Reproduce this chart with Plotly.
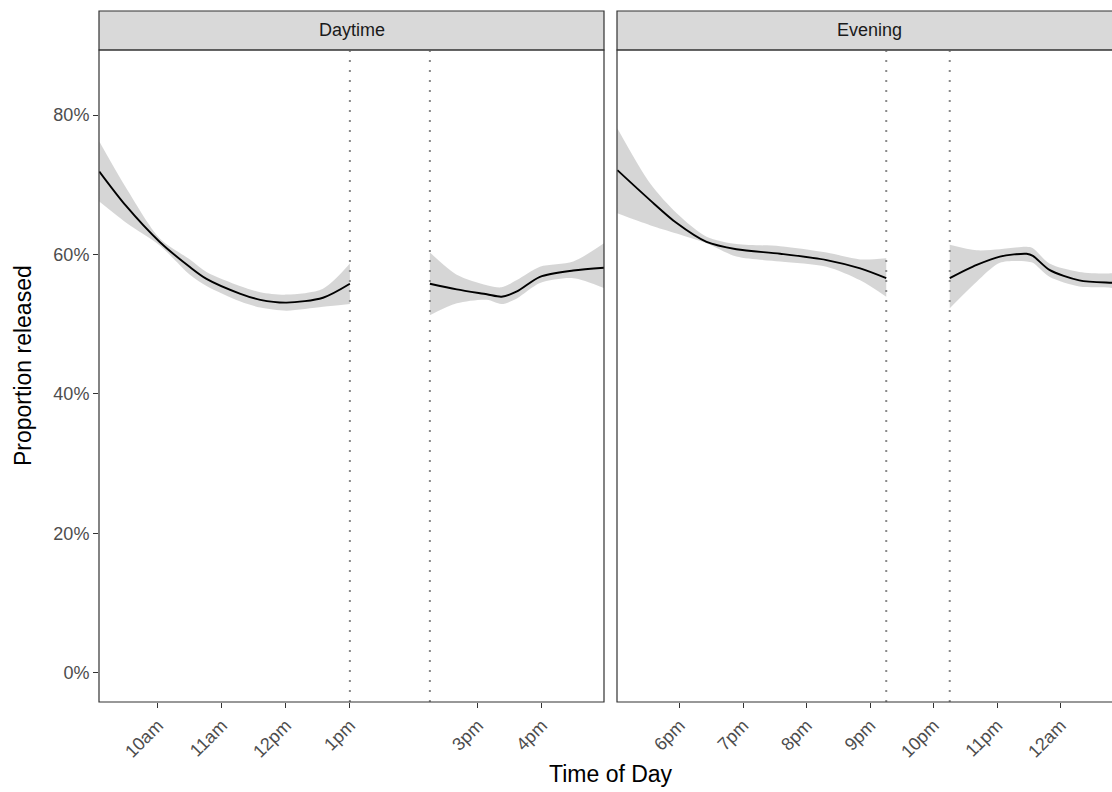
import plotly.graph_objects as go

# ---------------- data (hours of day; proportion released) ----------------
day_am_hours = [9.085, 9.5, 10.03, 10.5, 10.76, 11.28, 11.6, 12.01, 12.58, 13.0]
day_am_fit   = [0.719, 0.670, 0.618, 0.582, 0.565, 0.544, 0.535, 0.531, 0.538, 0.558]
day_am_upper = [0.762, 0.696, 0.623, 0.593, 0.575, 0.555, 0.546, 0.5425, 0.551, 0.587]
day_am_lower = [0.676, 0.646, 0.613, 0.571, 0.555, 0.533, 0.524, 0.5195, 0.525, 0.529]

day_pm_hours = [14.25, 14.67, 15.14, 15.37, 15.61, 15.97, 16.49, 16.97]
day_pm_fit   = [0.558, 0.550, 0.543, 0.5395, 0.547, 0.568, 0.577, 0.581]
day_pm_upper = [0.603, 0.571, 0.556, 0.553, 0.5635, 0.5825, 0.590, 0.616]
day_pm_lower = [0.513, 0.530, 0.535, 0.529, 0.537, 0.559, 0.566, 0.552]

eve_a_hours = [17.015, 17.53, 17.95, 18.42, 18.89, 19.58, 20.31, 20.84, 21.25]
eve_a_fit   = [0.721, 0.678, 0.645, 0.618, 0.6075, 0.601, 0.592, 0.580, 0.566]
eve_a_upper = [0.781, 0.702, 0.659, 0.6255, 0.615, 0.612, 0.603, 0.593, 0.5945]
eve_a_lower = [0.659, 0.642, 0.630, 0.616, 0.597, 0.590, 0.5825, 0.563, 0.5395]

eve_b_hours = [22.25, 22.675, 23.04, 23.46, 23.56, 23.82, 24.29, 24.8, 24.96]
eve_b_fit   = [0.566, 0.585, 0.597, 0.601, 0.598, 0.578, 0.563, 0.5596, 0.559]
eve_b_upper = [0.614, 0.606, 0.6075, 0.611, 0.609, 0.587, 0.575, 0.573, 0.576]
eve_b_lower = [0.523, 0.561, 0.588, 0.590, 0.588, 0.568, 0.554, 0.552, 0.548]

day_tick_vals = [10, 11, 12, 13, 15, 16]
day_tick_text = ["10am", "11am", "12pm", "1pm", "3pm", "4pm"]
eve_tick_vals = [18, 19, 20, 21, 22, 23, 24]
eve_tick_text = ["6pm", "7pm", "8pm", "9pm", "10pm", "11pm", "12am"]

day_breaks = [13.0, 14.25]
eve_breaks = [21.25, 22.25]

y_tick_vals = [0, 0.2, 0.4, 0.6, 0.8]
panel_labels = ["Daytime", "Evening"]

# ---------------- geometry ----------------
W, H = 1112, 792
ML, MR, MT, MB = 99, 0, 11, 90
PW = W - ML - MR
PH = H - MT - MB

def px_x(p):
    return (p - ML) / PW

def px_y(p):
    return 1 - (p - MT) / PH

left_dom = [0.0, px_x(604)]
right_dom = [px_x(617), 1.0]
right_end = px_x(1122)
y_top = px_y(50)

FONT = "Liberation Sans, Arial, Helvetica, sans-serif"
RIBBON = "rgba(153,153,153,0.4)"
BORDER = "#333333"

fig = go.Figure()

def add_smooth(hours, fit, lower, upper, xa, ya):
    fig.add_trace(go.Scatter(x=hours, y=lower, mode="lines", line=dict(width=0, shape="spline", smoothing=0.8),
                             xaxis=xa, yaxis=ya, showlegend=False, hoverinfo="skip"))
    fig.add_trace(go.Scatter(x=hours, y=upper, mode="lines", line=dict(width=0, shape="spline", smoothing=0.8),
                             fill="tonexty", fillcolor=RIBBON,
                             xaxis=xa, yaxis=ya, showlegend=False, hoverinfo="skip"))
    fig.add_trace(go.Scatter(x=hours, y=fit, mode="lines", line=dict(color="black", width=1.9, shape="spline", smoothing=0.8),
                             xaxis=xa, yaxis=ya, showlegend=False))

add_smooth(day_am_hours, day_am_fit, day_am_lower, day_am_upper, "x", "y")
add_smooth(day_pm_hours, day_pm_fit, day_pm_lower, day_pm_upper, "x", "y")
add_smooth(eve_a_hours, eve_a_fit, eve_a_lower, eve_a_upper, "x2", "y2")
add_smooth(eve_b_hours, eve_b_fit, eve_b_lower, eve_b_upper, "x2", "y2")

x_left_range = [9.08, 9.08 + (604 - 99) / 64.0]
x_right_range = [17.01, 17.01 + (1112 - 617) / 63.5]
y_range = [-0.0416, 0.8932]

tickfont = dict(family=FONT, size=18, color="#4d4d4d")
common_x = dict(showgrid=False, zeroline=False, showline=False, ticks="outside", ticklen=5,
                tickwidth=1.1, tickcolor=BORDER, tickangle=-45, tickfont=tickfont)

shapes = []
for xv in day_breaks:
    shapes.append(dict(type="line", xref="x", yref="y domain", x0=xv, x1=xv, y0=0, y1=1,
                       line=dict(color="#8a8a8a", width=2, dash="2px,8px"), layer="above"))
for xv in eve_breaks:
    shapes.append(dict(type="line", xref="x2", yref="y2 domain", x0=xv, x1=xv, y0=0, y1=1,
                       line=dict(color="#8a8a8a", width=2, dash="2px,8px"), layer="above"))

# panel borders and strips
for x0, x1 in [(left_dom[0], left_dom[1]), (right_dom[0], right_end)]:
    shapes.append(dict(type="rect", xref="paper", yref="paper", x0=x0, x1=x1, y0=0, y1=y_top,
                       line=dict(color=BORDER, width=1.2), fillcolor="rgba(0,0,0,0)", layer="above"))
    shapes.append(dict(type="rect", xref="paper", yref="paper", x0=x0, x1=x1, y0=y_top, y1=1.0,
                       line=dict(color=BORDER, width=1.2), fillcolor="#d9d9d9", layer="below"))

annotations = [
    dict(text=panel_labels[0], xref="paper", yref="paper", x=(left_dom[0] + left_dom[1]) / 2,
         y=(y_top + 1) / 2, showarrow=False, font=dict(family=FONT, size=18, color="#1a1a1a"),
         xanchor="center", yanchor="middle"),
    dict(text=panel_labels[1], xref="paper", yref="paper", x=(right_dom[0] + right_end) / 2,
         y=(y_top + 1) / 2, showarrow=False, font=dict(family=FONT, size=18, color="#1a1a1a"),
         xanchor="center", yanchor="middle"),
    dict(text="Proportion released", xref="paper", yref="paper", x=px_x(23), y=px_y(366),
         showarrow=False, textangle=-90, font=dict(family=FONT, size=23, color="black"),
         xanchor="center", yanchor="middle"),
    dict(text="Time of Day", xref="paper", yref="paper", x=px_x(611), y=px_y(774),
         showarrow=False, font=dict(family=FONT, size=23, color="black"),
         xanchor="center", yanchor="middle"),
]

fig.update_layout(
    width=W, height=H,
    margin=dict(l=ML, r=MR, t=MT, b=MB, autoexpand=False),
    paper_bgcolor="white", plot_bgcolor="white",
    showlegend=False,
    xaxis=dict(domain=left_dom, range=x_left_range, tickvals=day_tick_vals, ticktext=day_tick_text,
               anchor="y", **common_x),
    xaxis2=dict(domain=right_dom, range=x_right_range, tickvals=eve_tick_vals, ticktext=eve_tick_text,
                anchor="y2", **common_x),
    yaxis=dict(domain=[0, y_top], range=y_range, tickvals=y_tick_vals, tickformat=".0%",
               showgrid=False, zeroline=False, showline=False, ticks="outside", ticklen=5,
               tickwidth=1.1, tickcolor=BORDER, tickfont=tickfont, anchor="x"),
    yaxis2=dict(domain=[0, y_top], range=y_range, showgrid=False, zeroline=False, showline=False,
                showticklabels=False, ticks="", anchor="x2", matches="y"),
    shapes=shapes,
    annotations=annotations,
)

fig.write_html("out.html", config={"displayModeBar": False},
               post_script="document.body.style.margin='0px';document.body.style.overflow='hidden';")
